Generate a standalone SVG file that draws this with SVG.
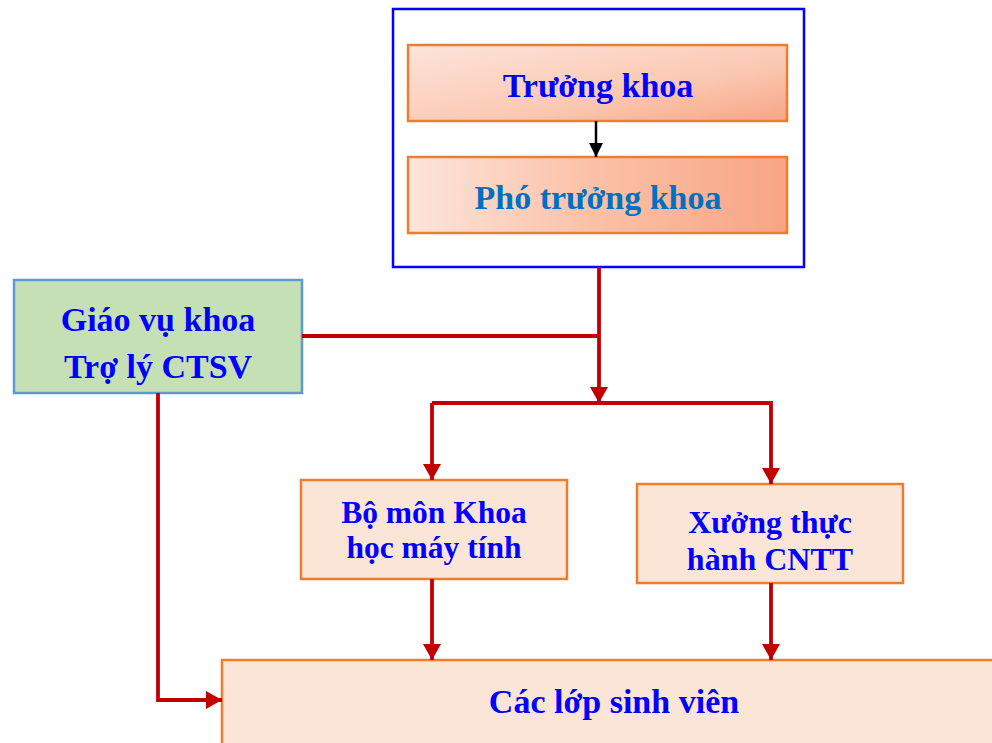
<svg xmlns="http://www.w3.org/2000/svg" width="992" height="743" viewBox="0 0 992 743">
<defs>
<linearGradient id="g1" x1="0" y1="0" x2="1" y2="1">
<stop offset="0" stop-color="#FDE4DB"/><stop offset="0.6" stop-color="#FBC9B3"/><stop offset="1" stop-color="#F7A586"/>
</linearGradient>
<linearGradient id="g2" x1="0" y1="0" x2="1" y2="0">
<stop offset="0" stop-color="#FDE4DB"/><stop offset="0.5" stop-color="#FBC0A6"/><stop offset="1" stop-color="#F8A584"/>
</linearGradient>
<marker id="ab" markerWidth="14" markerHeight="14" refX="14" refY="7" orient="auto" markerUnits="userSpaceOnUse">
<path d="M0,0 L14,7 L0,14 Z" fill="#000"/>
</marker>
<marker id="ar2" markerWidth="16" markerHeight="18" refX="16" refY="9" orient="auto" markerUnits="userSpaceOnUse">
<path d="M0,0 L16,9 L0,18 Z" fill="#C00000"/>
</marker>
</defs>
<style>
text{font-family:"Liberation Serif","Times New Roman",serif;font-weight:bold;text-anchor:middle}
.box{stroke:#ED7D31;stroke-width:2.5}
.low{fill:#FBE5D6}
.red{fill:none;stroke:#C00000;stroke-width:3.8}
.blue{fill:#0000FF}
</style>
<rect x="0" y="0" width="992" height="743" fill="#fff"/>
<g id="leadership">
<rect x="393" y="9" width="411" height="258" fill="#fff" stroke="#0000FF" stroke-width="2.5"/>
</g>
<g id="truong-khoa">
<rect class="box" x="408" y="45" width="379" height="76" fill="url(#g1)"/>
<text class="blue" x="598" y="97" font-size="34">Trưởng khoa</text>
</g>
<g id="pho-truong-khoa">
<rect class="box" x="408" y="157" width="379" height="76" fill="url(#g2)"/>
<text x="598" y="209" font-size="34" fill="#0070C0">Phó trưởng khoa</text>
</g>
<g id="giao-vu">
<rect x="14" y="280" width="288" height="113" fill="#C5E0B4" stroke="#5B9BD5" stroke-width="2.5"/>
<text class="blue" x="158" y="331" font-size="34">Giáo vụ khoa</text>
<text class="blue" x="158" y="378" font-size="34">Trợ lý CTSV</text>
</g>
<g id="bo-mon">
<rect class="box low" x="301" y="480" width="266" height="99"/>
<text class="blue" x="434" y="523" font-size="31.5">Bộ môn Khoa</text>
<text class="blue" x="434" y="558" font-size="31.5">học máy tính</text>
</g>
<g id="xuong">
<rect class="box low" x="637" y="484" width="266" height="99"/>
<text class="blue" x="770" y="533" font-size="32">Xưởng thực</text>
<text class="blue" x="770" y="570" font-size="32">hành CNTT</text>
</g>
<g id="cac-lop">
<rect class="box low" x="222" y="660" width="780" height="100"/>
<text class="blue" x="614" y="713" font-size="34">Các lớp sinh viên</text>
</g>
<g id="connectors">
<line x1="596" y1="121" x2="596" y2="157" stroke="#000" stroke-width="2.5" marker-end="url(#ab)"/>
<polyline class="red" points="599,267 599,403" marker-end="url(#ar2)"/>
<polyline class="red" points="302,336 599,336"/>
<polyline class="red" points="432,403 771,403 771,484" marker-end="url(#ar2)"/>
<polyline class="red" points="432,403 432,480" marker-end="url(#ar2)"/>
<polyline class="red" points="432,579 432,660" marker-end="url(#ar2)"/>
<polyline class="red" points="771,583 771,660" marker-end="url(#ar2)"/>
<polyline class="red" points="158,393 158,700 222,700" marker-end="url(#ar2)"/>
</g>
</svg>
